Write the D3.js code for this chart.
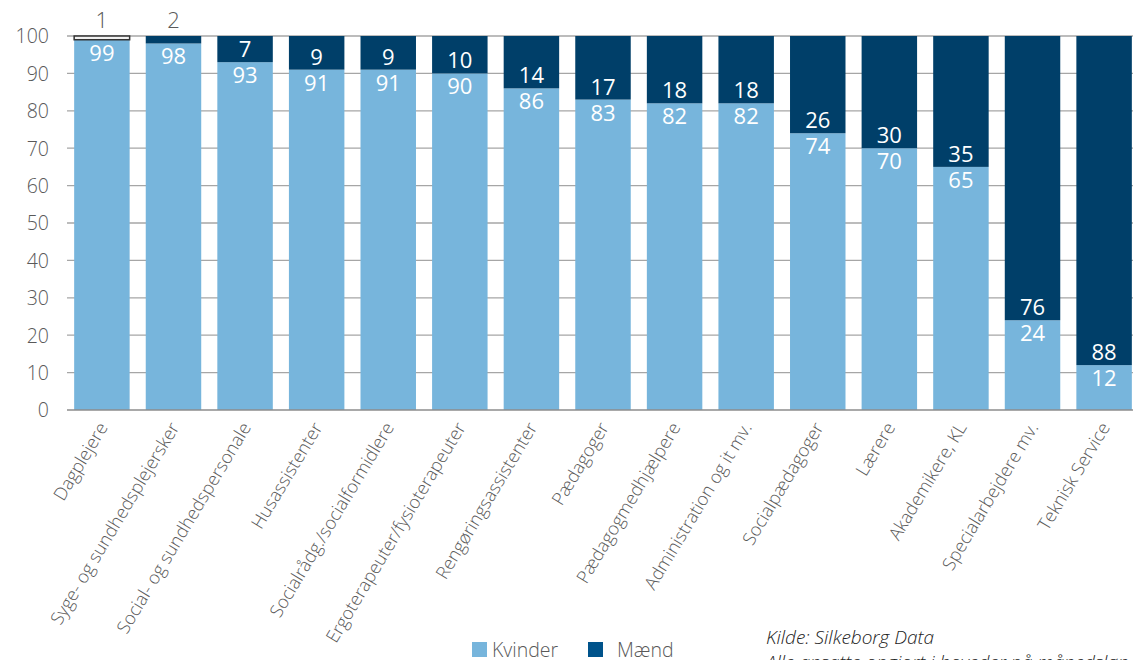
<!DOCTYPE html>
<html>
<head>
<meta charset="utf-8">
<script src="https://cdn.jsdelivr.net/npm/d3@7"></script>
<style>
  html, body { margin: 0; padding: 0; background: #fff; }
  svg { display: block; font-family: "Open Sans", "Noto Sans", sans-serif; font-weight: 300; }
</style>
</head>
<body>
<svg id="chart" width="1133" height="660"></svg>
<script>
// Andel kvinder og mænd (%) fordelt på faggrupper
const categories = [
  "Dagplejere",
  "Syge- og sundhedsplejersker",
  "Social- og sundhedspersonale",
  "Husassistenter",
  "Socialrådg./socialformidlere",
  "Ergoterapeuter/fysioterapeuter",
  "Rengøringsassistenter",
  "Pædagoger",
  "Pædagogmedhjælpere",
  "Administration og it mv.",
  "Socialpædagoger",
  "Lærere",
  "Akademikere, KL",
  "Specialarbejdere mv.",
  "Teknisk Service"
];
const kvinder = [99, 98, 93, 91, 91, 90, 86, 83, 82, 82, 74, 70, 65, 24, 12];
const maend   = [1, 2, 7, 9, 9, 10, 14, 17, 18, 18, 26, 30, 35, 76, 88];
const yTicks  = [0, 10, 20, 30, 40, 50, 60, 70, 80, 90, 100];
const seriesNames = ["Kvinder", "Mænd"];

const colKvinder = "#77b5dc";
const colMaend = "#003f69";
const colLegendMaend = "#00538b";
const textGray = "#595959";

const svg = d3.select("#chart");
const W = 1133;

const x = d3.scaleBand()
  .domain(categories)
  .range([67, 1139])
  .paddingInner(0.225)
  .paddingOuter(0.1);

const y = d3.scaleLinear().domain([0, 100]).range([410, 36]);

// grid lines
svg.append("g")
  .selectAll("line")
  .data(yTicks.filter(d => d > 0))
  .join("line")
  .attr("x1", 67).attr("x2", W)
  .attr("y1", d => y(d)).attr("y2", d => y(d))
  .attr("stroke", "#a6a6a6").attr("stroke-width", 1.3);

// y axis labels
const yAxis = d3.axisLeft(y).tickValues(yTicks).tickSize(0).tickPadding(0);
const gy = svg.append("g").attr("transform", "translate(49,0)").call(yAxis);
gy.select(".domain").remove();
gy.selectAll("text")
  .attr("fill", textGray)
  .attr("font-size", 19.5)
  .attr("font-family", "\"Open Sans\", \"Noto Sans\", sans-serif")
  .attr("dy", "0.35em");

const data = categories.map((c, i) => ({ cat: c, k: kvinder[i], m: maend[i] }));
const bw = x.bandwidth();

// women segments
svg.append("g").selectAll("rect")
  .data(data).join("rect")
  .attr("x", d => x(d.cat)).attr("width", bw)
  .attr("y", d => y(d.k)).attr("height", d => y(0) - y(d.k))
  .attr("fill", colKvinder);

// men segments (the thinnest one is drawn as an outlined box)
svg.append("g").selectAll("rect")
  .data(data).join("rect")
  .attr("x", d => x(d.cat)).attr("width", bw)
  .attr("y", d => y(d.k + d.m)).attr("height", d => y(d.k) - y(d.k + d.m))
  .attr("fill", d => d.m < 2 ? "#f2f2f2" : colMaend)
  .attr("stroke", d => d.m < 2 ? "#333" : "none")
  .attr("stroke-width", 1.5);

// x axis baseline
svg.append("line")
  .attr("x1", 67).attr("x2", W)
  .attr("y1", y(0)).attr("y2", y(0))
  .attr("stroke", "#8c8c8c").attr("stroke-width", 1.5);

// value labels
const lab = svg.append("g").attr("font-size", 22).attr("font-weight", 400).attr("text-anchor", "middle");
lab.selectAll("text.k")
  .data(data).join("text").attr("class", "k")
  .attr("x", d => x(d.cat) + bw / 2)
  .attr("y", d => y(d.k) + 21)
  .attr("fill", "#fff")
  .text(d => d.k);
lab.selectAll("text.m")
  .data(data).join("text").attr("class", "m")
  .attr("x", d => x(d.cat) + bw / 2)
  .attr("y", d => d.m <= 2 ? y(100) - 8 : y(d.k) - 5)
  .attr("fill", d => d.m <= 2 ? textGray : "#fff")
  .attr("font-weight", d => d.m <= 2 ? 300 : 400)
  .text(d => d.m);

// category labels
svg.append("g").selectAll("text")
  .data(categories).join("text")
  .attr("transform", d => `translate(${x(d) + bw / 2 + 1},${y(0) + 14}) rotate(-59)`)
  .attr("text-anchor", "end")
  .attr("font-size", 18)
  .attr("fill", textGray)
  .attr("dy", "0.35em")
  .text(d => d);

// legend
const legend = svg.append("g").attr("font-size", 19.5).attr("fill", textGray);
const lx = [472, 588];
const tx = [492, 617];
seriesNames.forEach((name, i) => {
  legend.append("rect")
    .attr("x", lx[i]).attr("y", 642).attr("width", 15).attr("height", 15)
    .attr("fill", i === 0 ? colKvinder : colLegendMaend);
  legend.append("text")
    .attr("x", tx[i]).attr("y", 657)
    .text(name);
});

// source note
const note = svg.append("g").attr("font-size", 19).attr("font-style", "italic").attr("fill", "#222");
note.append("text").attr("x", 766).attr("y", 644).text("Kilde: Silkeborg Data");
note.append("text").attr("x", 766).attr("y", 669).text("Alle ansatte opgjort i hoveder på månedsløn");
</script>
</body>
</html>
